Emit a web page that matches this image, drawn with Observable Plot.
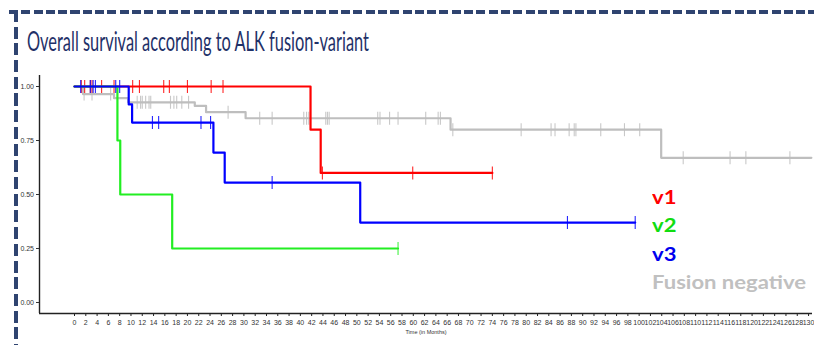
<!DOCTYPE html>
<html><head><meta charset="utf-8">
<script src="https://cdn.jsdelivr.net/npm/d3@7"></script>
<script src="https://cdn.jsdelivr.net/npm/@observablehq/plot@0.6"></script>
<style>
body{margin:0;background:#fff;}
#wrap{position:relative;width:814px;height:345px;overflow:hidden;background:#fff;}
.dash-h{position:absolute;left:9px;top:10px;width:805px;height:4px;background:repeating-linear-gradient(90deg,#2F4470 0 9px,transparent 9px 12.3px);}
.dash-v{position:absolute;left:14px;top:10px;width:4px;height:335px;background:repeating-linear-gradient(180deg,#2F4470 0 12px,transparent 12px 16.7px);}
#title{position:absolute;left:27px;top:28px;font-family:Lato,"Open Sans",sans-serif;font-size:26px;line-height:26px;color:#1F3168;white-space:nowrap;transform-origin:0 0;}
#chart{position:absolute;left:0;top:70px;}
.leg{position:absolute;left:652px;font-family:Lato,"Open Sans",sans-serif;font-weight:bold;font-size:19px;line-height:19px;white-space:nowrap;transform-origin:0 0;}
</style></head>
<body>
<div id="wrap">
  <div class="dash-h"></div>
  <div class="dash-v"></div>
  <div id="title">Overall survival according to ALK fusion-variant</div>
  <div id="chart"></div>
</div>
<script>
// ---- data ----
const groupNames = ["v1", "v2", "v3", "Fusion negative"];
const groupColors = ["#FF0000", "#22EE22", "#0000FF", "#BEBEBE"];
const legendColors = ["#FF0000", "#11DD11", "#0000EE", "#C0C0C0"];

const v1Time = [0, 41.8, 43.6, 74];
const v1Surv = [1, 0.8, 0.6, 0.6];
const v1Censor = [1.2, 1.8, 2.8, 3.1, 4.8, 7.0, 10.3, 11.5, 15.8, 16.8, 20.0, 24.2, 26.3, 43.9, 59.9, 74];

const v2Time = [0, 7.6, 8.1, 17.3, 57.3];
const v2Surv = [1, 0.75, 0.5, 0.25, 0.25];
const v2Censor = [57.3];

const v3Time = [0, 9.6, 10.2, 24.6, 26.6, 50.6, 99.3];
const v3Surv = [1, 0.917, 0.833, 0.694, 0.555, 0.37, 0.37];
const v3Censor = [1.1, 2.8, 3.3, 3.7, 7.3, 8.0, 13.8, 14.9, 22.4, 24.1, 35.0, 87.3, 99.3];

const negTime = [0, 1.5, 7.0, 9.5, 21.3, 23.3, 30.3, 66.6, 103.9, 130.5];
const negSurv = [1, 0.965, 0.946, 0.927, 0.91, 0.881, 0.853, 0.80, 0.67, 0.67];
const negCensor = [1.7, 3.1, 6.4, 11.1, 11.7, 12.0, 12.6, 13.2, 13.5, 17.0, 17.6, 18.1, 19.0, 20.2,
  27.2, 32.8, 35.0, 40.6, 41.1, 41.5, 44.5, 44.8, 45.1, 53.7, 54.1, 55.8, 57.3, 62.2, 64.4, 64.8,
  67.0, 79.1, 84.4, 85.1, 87.6, 88.5, 88.8, 93.2, 97.4, 100.1, 107.8, 116.1, 118.9, 126.7];

const xTicks = d3.range(0, 131, 2);
const yTicks = [0, 0.25, 0.5, 0.75, 1];
const xDomain = [-6.2, 130.7];
const yDomain = [-0.051, 1.051];
const xLabel = "Time (in Months)";
const titleText = "Overall survival according to ALK fusion-variant";

// ---- build tables ----
const series = [
  {time: v1Time, surv: v1Surv, cens: v1Censor},
  {time: v2Time, surv: v2Surv, cens: v2Censor},
  {time: v3Time, surv: v3Surv, cens: v3Censor},
  {time: negTime, surv: negSurv, cens: negCensor}
];
function survAt(time, surv, t) {
  let s = surv[0];
  for (let i = 0; i < time.length; i++) if (time[i] <= t) s = surv[i];
  return s;
}
const lines = [], cens = [];
series.forEach((g, gi) => {
  g.time.forEach((t, i) => lines.push({g: groupNames[gi], t, s: g.surv[i]}));
  g.cens.forEach(t => cens.push({g: groupNames[gi], t, s: survAt(g.time, g.surv, t)}));
});
const drawOrder = ["Fusion negative", "v1", "v2", "v3"];
const colorOf = g => groupColors[groupNames.indexOf(g)];

const tickSymbol = {draw(ctx, size) { const h = Math.sqrt(size / Math.PI); ctx.moveTo(0, -h); ctx.lineTo(0, h); }};

const marks = [
  Plot.ruleX([xDomain[0]], {stroke: "#222", strokeWidth: 1.4}),
  Plot.ruleY([yDomain[0]], {stroke: "#222", strokeWidth: 1.6}),
  Plot.axisX({ticks: xTicks, tickSize: 3, tickPadding: 3.5, tickFormat: d => String(d), label: null, fontSize: 7, stroke: "#222"}),
  Plot.axisY({ticks: yTicks, tickSize: 3, tickPadding: 2.5, tickFormat: d3.format(".2f"), label: null, fontSize: 7}),
  Plot.text([xLabel], {frameAnchor: "bottom", dy: 20, fontSize: 5.5, fill: "#333"})
];
drawOrder.forEach(g => {
  marks.push(Plot.line(lines.filter(d => d.g === g), {x: "t", y: "s", curve: "step-after", stroke: colorOf(g), strokeWidth: 2.2}));
  marks.push(Plot.dot(cens.filter(d => d.g === g), {x: "t", y: "s", symbol: tickSymbol, r: 6.5, fill: "none", stroke: colorOf(g), strokeWidth: 1.1, strokeOpacity: 0.85}));
});

const plot = Plot.plot({
  width: 814, height: 275,
  marginLeft: 39, marginRight: 2, marginTop: 5, marginBottom: 32,
  x: {domain: xDomain},
  y: {domain: yDomain},
  style: {fontFamily: "'Liberation Sans', Arial, sans-serif", color: "#333", background: "transparent", overflow: "visible"},
  marks
});
document.getElementById("chart").appendChild(plot);

// legend text
const legTops = [187, 215, 244, 272];
const wrap = document.getElementById("wrap");
const legEls = groupNames.map((n, i) => {
  const d = document.createElement("div");
  d.className = "leg";
  d.textContent = n;
  d.style.top = legTops[i] + "px";
  d.style.color = legendColors[i];
  wrap.appendChild(d);
  return d;
});
// fit widths to the reference
const title = document.getElementById("title");
title.textContent = titleText;
title.style.transform = `scaleX(${342 / title.getBoundingClientRect().width})`;
const ls = 154 / legEls[3].getBoundingClientRect().width;
legEls.forEach(d => d.style.transform = `scaleX(${ls})`);
</script>
</body></html>
